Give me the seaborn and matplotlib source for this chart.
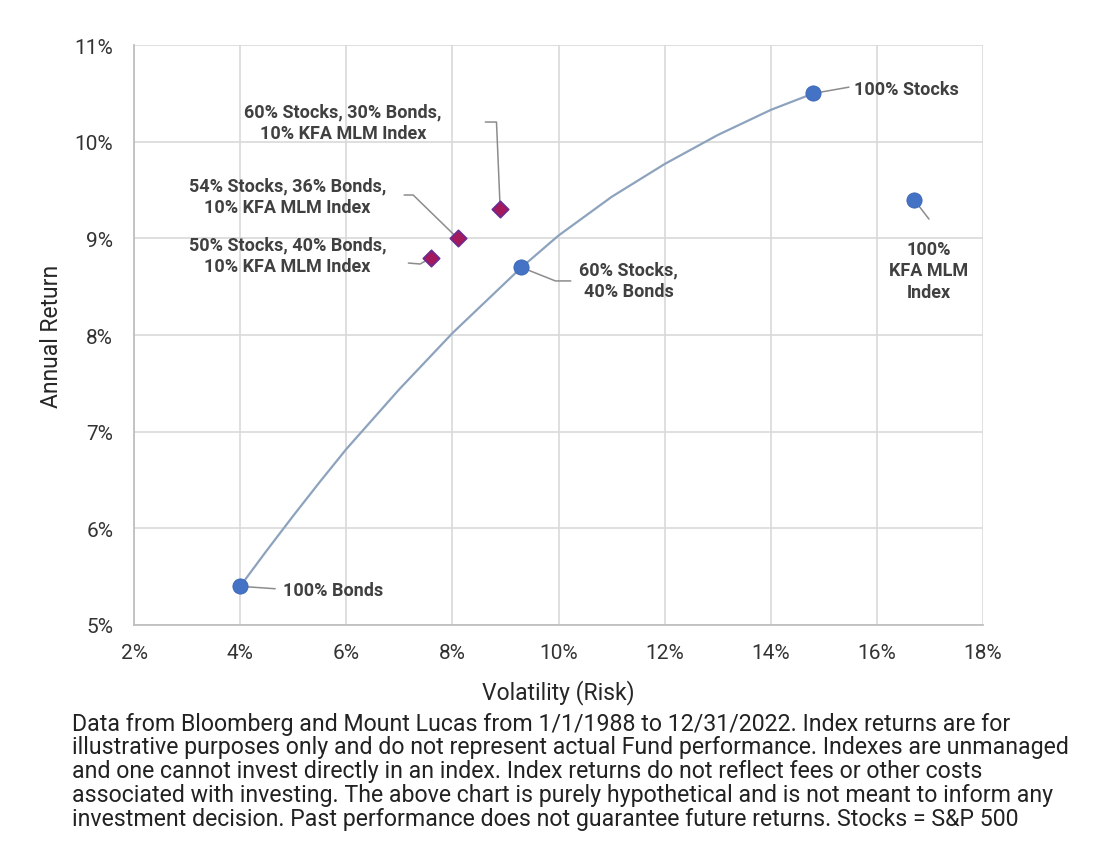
import numpy as np
import pandas as pd
import matplotlib
matplotlib.use("Agg")
import matplotlib.pyplot as plt
from matplotlib.ticker import FuncFormatter
import seaborn as sns

# ----------------------------------------------------------------------
# Data (volatility %, annual return %)
# ----------------------------------------------------------------------
circle_names = ["100% Bonds", "60% Stocks,\n40% Bonds", "100% Stocks", "100%\nKFA MLM\nIndex"]
circle_vol = [4.0, 9.3, 14.8, 16.7]
circle_ret = [5.4, 8.7, 10.5, 9.4]

diamond_names = ["50% Stocks, 40% Bonds,\n10% KFA MLM Index",
                 "54% Stocks, 36% Bonds,\n10% KFA MLM Index",
                 "60% Stocks, 30% Bonds,\n10% KFA MLM Index"]
diamond_vol = [7.6, 8.1, 8.9]
diamond_ret = [8.8, 9.0, 9.3]

# stock/bond frontier
curve_vol = [4.0, 4.5, 5.0, 5.5, 6.0, 7.0, 8.0, 9.3, 10.0, 11.0, 12.0, 13.0, 14.0, 14.8]
curve_ret = [5.4, 5.77, 6.13, 6.48, 6.82, 7.44, 8.02, 8.7, 9.03, 9.43, 9.77, 10.07, 10.33, 10.5]

footnote = [
    "Data from Bloomberg and Mount Lucas from 1/1/1988 to 12/31/2022. Index returns are for",
    "illustrative purposes only and do not represent actual Fund performance. Indexes are unmanaged",
    "and one cannot invest directly in an index. Index returns do not reflect fees or other costs",
    "associated with investing. The above chart is purely hypothetical and is not meant to inform any",
    "investment decision. Past performance does not guarantee future returns. Stocks = S&P 500",
]

dfCirc = pd.DataFrame({"vol": circle_vol, "ret": circle_ret, "name": circle_names})
dfDiam = pd.DataFrame({"vol": diamond_vol, "ret": diamond_ret, "name": diamond_names})
dfCurve = pd.DataFrame({"vol": curve_vol, "ret": curve_ret})

# ----------------------------------------------------------------------
# Style
# ----------------------------------------------------------------------
sns.set_theme(style="whitegrid")
plt.rcParams["font.family"] = ["Roboto", "DejaVu Sans"]

fig = plt.figure(figsize=(10.96, 8.54), dpi=100)
ax = fig.add_axes([0.1223, 0.267, 0.7747, 0.679])

sns.lineplot(data=dfCurve, x="vol", y="ret", sort=False, color="#8da3bd",
             linewidth=1.6, ax=ax, zorder=2)
sns.scatterplot(data=dfCirc, x="vol", y="ret", color="#4472c4", s=120,
                edgecolor="#3a66b5", linewidth=0.6, ax=ax, zorder=4)
sns.scatterplot(data=dfDiam, x="vol", y="ret", marker="D", color="#a3195b", s=70,
                edgecolor="#6a2c91", linewidth=1.2, ax=ax, zorder=4)

ax.set_xlim(2, 18)
ax.set_ylim(5, 11)
ax.set_xticks(np.arange(2, 19, 2))
ax.set_yticks(np.arange(5, 12, 1))
ax.xaxis.set_major_formatter(FuncFormatter(lambda v, p: f"{v:.0f}%"))
ax.yaxis.set_major_formatter(FuncFormatter(lambda v, p: f"{v:.0f}%"))
ax.tick_params(axis="both", labelsize=15, colors="#333333", length=0)
ax.tick_params(axis="y", pad=15)
ax.tick_params(axis="x", pad=13)
ax.grid(color="#d9d9d9", linewidth=1.2)
for s in ["top", "right"]:
    ax.spines[s].set_visible(False)
for s in ["left", "bottom"]:
    ax.spines[s].set_color("#bfbfbf")
    ax.spines[s].set_linewidth(1.3)

ax.set_xlabel("Volatility (Risk)", fontsize=16.5, color="#262626", labelpad=12)
ax.set_ylabel("Annual Return", fontsize=16.5, color="#262626", labelpad=8)

# ----------------------------------------------------------------------
# Labels and leader lines
# ----------------------------------------------------------------------
lblKw = dict(fontsize=13, fontweight="bold", color="#404040", linespacing=1.25, zorder=5)
leadKw = dict(color="#8c8c8c", linewidth=1.1, zorder=3)

# circles: (text x, text y, ha, leader path after the marker)
circ_lbl = [
    (4.81, 5.365, "left",   [(4.66, 5.375)]),
    (11.32, 8.565, "center", [(9.94, 8.56), (10.23, 8.56)]),
    (15.57, 10.545, "left",  [(15.47, 10.565)]),
    (16.98, 8.67, "center", [(16.98, 9.2)]),
]
for (tx, ty, ha, path), row in zip(circ_lbl, dfCirc.itertuples()):
    pts = [(row.vol, row.ret)] + path
    ax.plot([p[0] for p in pts], [p[1] for p in pts], **leadKw)
    ax.text(tx, ty, row.name, ha=ha, va="center", **lblKw)

diam_lbl = [
    (4.89, 8.828, [(7.39, 8.735), (7.17, 8.745)]),
    (4.89, 9.438, [(7.26, 9.449), (7.09, 9.449)]),
    (5.94, 10.199, [(8.83, 10.204), (8.62, 10.204)]),
]
for (tx, ty, path), row in zip(diam_lbl, dfDiam.itertuples()):
    pts = [(row.vol, row.ret)] + path
    ax.plot([p[0] for p in pts], [p[1] for p in pts], **leadKw)
    ax.text(tx, ty, row.name, ha="center", va="center", **lblKw)

# ----------------------------------------------------------------------
# Footnote
# ----------------------------------------------------------------------
for i, linha in enumerate(footnote):
    fig.text(72 / 1096, 1 - (724 + 24 * i) / 854, linha, fontsize=16.7,
             color="#222222", ha="left", va="center")

fig.savefig("out.png", dpi=100)
